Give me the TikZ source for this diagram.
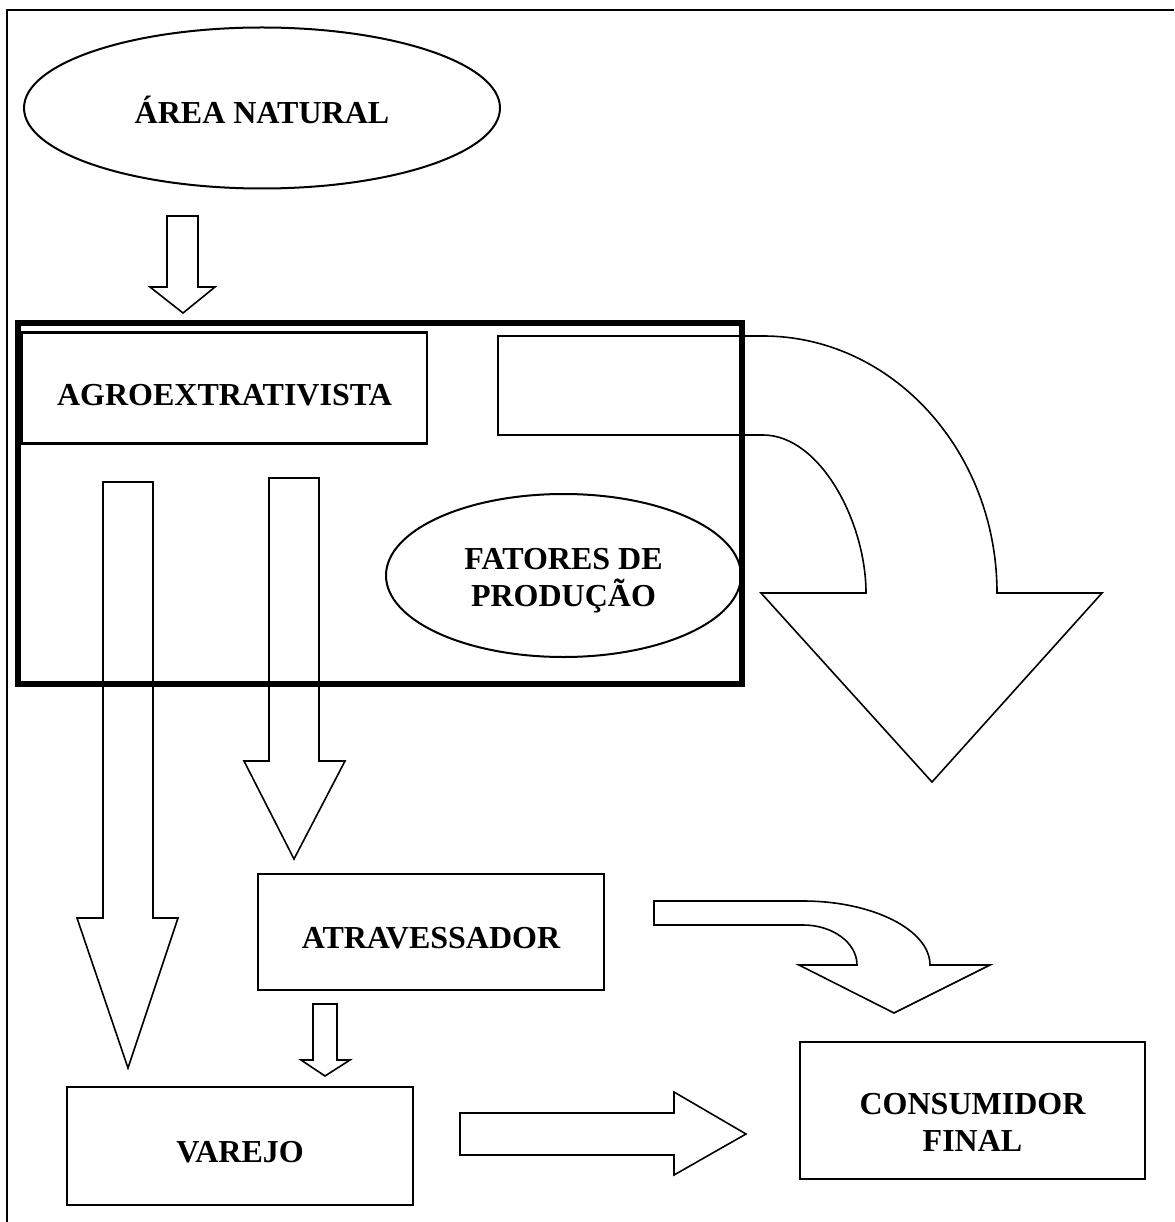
\documentclass[tikz,border=0pt]{standalone}
\usepackage{fontspec}
\setmainfont{Liberation Serif}
\usetikzlibrary{shapes.geometric,positioning}

\tikzset{
  rotulo/.style={font=\fontsize{32}{37}\selectfont\bfseries, align=center, inner sep=0pt},
  caixa/.style={draw, line width=2.5, inner sep=0pt},
  elipse/.style={draw, ellipse, line width=2, inner sep=0pt},
  seta/.style={draw, line width=1.6, line join=miter}
}

\begin{document}
\begin{tikzpicture}[x=1pt,y=-1pt]
\useasboundingbox (0,0) rectangle (1174,1222);
\draw[line width=2] (1174,10) -- (7,10) -- (7,1222);

\node[elipse, minimum width=476, minimum height=161,
  label={[rotulo, yshift=-2pt]center:ÁREA NATURAL}] (area) at (262,108) {};
\draw[seta] (167,216) -- (198,216) -- (198,287) -- (215,287) -- (183,313) -- (150,287) -- (167,287) -- cycle;

% unidade de producao
\node[draw, line width=6, minimum width=724, minimum height=361, inner sep=0pt] (unidade) at (380,503.5) {};
\node[caixa, minimum width=405, minimum height=111,
  label={[rotulo, yshift=-7pt]center:AGROEXTRATIVISTA}] (agro) at (224.5,388) {};
\node[elipse, minimum width=355, minimum height=163,
  label={[rotulo, yshift=-5pt]center:FATORES DE\\PRODUÇÃO}] (fatores) at (563.5,575.5) {};

% seta curva grande
\draw[seta] (498,336) -- (763,336) .. controls (892,336) and (997,451) .. (997,593)
  -- (1102,593) -- (932,782) -- (761,593) -- (866,593)
  .. controls (866,522) and (820,435) .. (763,435) -- (498,435) -- cycle;

% setas para baixo
\draw[seta] (103,482) -- (153,482) -- (153,918) -- (178,918) -- (128,1068) -- (77,918) -- (103,918) -- cycle;
\draw[seta] (269,478) -- (319,478) -- (319,761) -- (345,761) -- (294,859) -- (244,761) -- (269,761) -- cycle;

\node[caixa, minimum width=346, minimum height=116,
  label={[rotulo, yshift=-6pt]center:ATRAVESSADOR}] (atrav) at (431,932) {};
\draw[seta] (313,1004) -- (337,1004) -- (337,1060) -- (350,1060) -- (325,1076) -- (301,1060) -- (313,1060) -- cycle;

\node[caixa, minimum width=346, minimum height=118,
  label={[rotulo, yshift=-6pt]center:VAREJO}] (varejo) at (240,1146) {};
\node[caixa, minimum width=345, minimum height=137,
  label={[rotulo, yshift=-12pt]center:CONSUMIDOR\\FINAL}] (consumidor) at (972.5,1110.5) {};

% seta curva pequena
\draw[seta] (654,901) -- (803,901) .. controls (873,901) and (930,930) .. (930,965)
  -- (990,965) -- (894,1013) -- (799,965) -- (857,965)
  .. controls (857,943) and (833,925) .. (803,925) -- (654,925) -- cycle;

\draw[seta] (460,1113) -- (674,1113) -- (674,1092) -- (746,1134) -- (674,1175) -- (674,1155) -- (460,1155) -- cycle;
\end{tikzpicture}
\end{document}
